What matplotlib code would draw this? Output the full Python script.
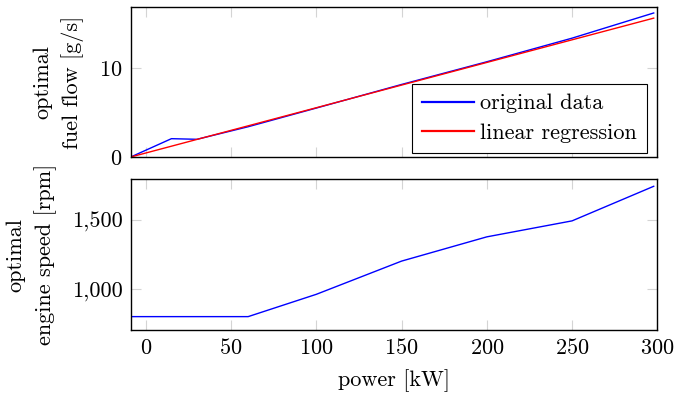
import matplotlib
matplotlib.use("Agg")
import matplotlib.pyplot as plt
from matplotlib.ticker import FuncFormatter

# data
power_orig = [-8.9, 15, 30, 60, 100, 150, 200, 250, 297.9]
fuel_orig = [0.0, 2.06, 1.99, 3.4, 5.5, 8.15, 10.7, 13.35, 16.18]
power_reg = [-8.9, 297.9]
fuel_reg = [0.0, 15.6]

power_speed = [-8.9, 60, 100, 150, 200, 250, 297.9]
speed = [800, 800, 962, 1203, 1379, 1495, 1746]

x_ticks = [0, 50, 100, 150, 200, 250, 300]
fuel_ticks = [0, 10]
speed_ticks = [1000, 1500]

plt.rcParams["font.family"] = "cmr10"
plt.rcParams["mathtext.fontset"] = "cm"
plt.rcParams["axes.unicode_minus"] = False
plt.rcParams["axes.formatter.use_mathtext"] = True
fs = 16

fig = plt.figure(figsize=(6.74, 3.96), dpi=100)
ax1 = fig.add_axes([0.1939, 0.6035, 0.7813, 0.3788])
ax2 = fig.add_axes([0.1939, 0.1667, 0.7813, 0.3806])


def style(ax):
    ax.tick_params(direction="in", length=7, width=0.8, color="#d4d4d4",
                   top=True, right=True, labelsize=fs, pad=6)
    for s in ax.spines.values():
        s.set_linewidth(1.0)
        s.set_color("black")
    ax.set_xlim(-8.9, 300)
    ax.set_xticks(x_ticks)


ax1.plot(power_orig, fuel_orig, color="blue", lw=1.0, label="original data")
ax1.plot(power_reg, fuel_reg, color="red", lw=1.0, label="linear regression")
style(ax1)
ax1.set_ylim(0, 16.85)
ax1.set_yticks(fuel_ticks)
ax1.tick_params(labelbottom=False)
ax1.set_ylabel("optimal\nfuel flow [g/s]", fontsize=fs, labelpad=10.5, linespacing=1.55)
leg = ax1.legend(loc="lower right", bbox_to_anchor=(0.9805, 0.027), borderaxespad=0,
                 fontsize=fs, fancybox=False, edgecolor="black", framealpha=1,
                 handlelength=2.3, handletextpad=0.3, labelspacing=0.45,
                 borderpad=0.45)
leg.get_frame().set_linewidth(0.8)
for h in leg.get_lines():
    h.set_linewidth(1.6)

ax2.plot(power_speed, speed, color="blue", lw=1.0)
style(ax2)
ax2.set_ylim(703, 1797)
ax2.set_yticks(speed_ticks)
ax2.yaxis.set_major_formatter(FuncFormatter(lambda v, p: f"{int(v):,}"))
ax2.set_ylabel("optimal\nengine speed [rpm]", fontsize=fs, labelpad=10.5, linespacing=1.55)
ax2.set_xlabel("power [kW]", fontsize=fs, labelpad=8)

fig.savefig("out.png", dpi=100)
